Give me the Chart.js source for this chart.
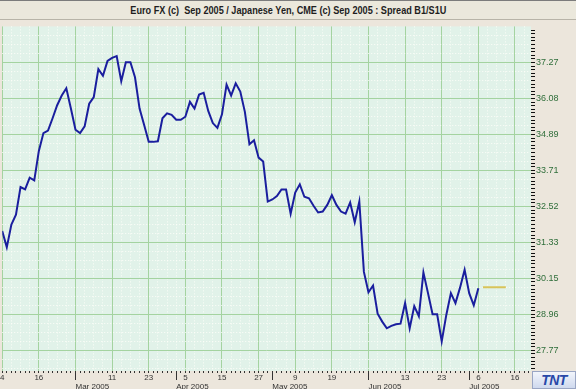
<!DOCTYPE html>
<html>
<head>
<meta charset="utf-8">
<script src="https://cdn.jsdelivr.net/npm/chart.js@4.4.0/dist/chart.umd.min.js"></script>
<style>
  html, body { margin: 0; padding: 0; background: #ece6dc; }
  #wrap { position: relative; width: 576px; height: 389px; overflow: hidden; }
  #title {
    position: absolute; left: 0; top: 0; width: 576px; height: 18px;
    background: #ebe8dc; border-top: 1px solid #7c7c7c; border-bottom: 1px solid #b8b4a8;
    font-family: "Liberation Sans", Arial, sans-serif;
    font-weight: bold; font-size: 11px; color: #1e1e1e;
    text-align: center; line-height: 18px; white-space: pre;
  }
  #title span { display: inline-block; transform: scaleX(0.83); }
  #box { position: absolute; left: 0; top: 20px; width: 576px; height: 369px; }
  #logo {
    position: absolute; left: 532px; top: 371px; width: 44px; height: 18px;
    background: linear-gradient(#f2f5fb, #cfd9ee); box-sizing: border-box; border: 1px solid #9aa6c4;
    font-family: "Liberation Sans", Arial, sans-serif; font-weight: bold; font-style: italic;
    font-size: 14px; line-height: 16px; color: #2848a8; text-align: center; letter-spacing: -0.5px;
  }
</style>
</head>
<body>
<div id="wrap">
  <div id="title"><span>Euro FX (c)  Sep 2005 / Japanese Yen, CME (c) Sep 2005 : Spread B1/S1U</span></div>
  <div id="box"><canvas id="spreadChart"></canvas></div>
  <div id="logo">TNT</div>
</div>
<script>
  // Spread close per trading day, index 0 = 4 Feb 2005 ... index 104 = 6 Jul 2005
  const spread = [
    31.71, 31.17, 31.92, 32.25, 33.16, 33.08, 33.47, 33.38, 34.35, 34.94,
    35.02, 35.43, 35.86, 36.18, 36.42, 35.75, 35.05, 34.94, 35.16, 35.91,
    36.13, 37.05, 36.83, 37.32, 37.42, 37.48, 36.65, 37.28, 37.28, 36.78,
    35.75, 35.21, 34.65, 34.65, 34.67, 35.43, 35.59, 35.54, 35.38, 35.38,
    35.48, 35.97, 35.75, 36.21, 36.27, 35.67, 35.27, 35.11, 35.56, 36.54,
    36.18, 36.58, 36.31, 35.64, 34.57, 34.70, 34.13, 34.00, 32.68, 32.75,
    32.86, 33.08, 33.08, 32.28, 32.98, 33.25, 32.84, 32.79, 32.54, 32.32,
    32.35, 32.57, 32.89, 32.57, 32.35, 32.28, 32.65, 32.00, 32.68, 30.36,
    29.69, 29.91, 28.98, 28.72, 28.50, 28.58, 28.63, 28.65, 29.33, 28.50,
    29.23, 28.90, 30.34, 29.66, 28.96, 28.96, 28.07, 28.94, 29.66, 29.33,
    29.84, 30.43, 29.66, 29.26, 29.82
  ];

  // last price marker (yellow dash right of the line)
  const markerIdx = [105, 110];
  const markerValue = 29.85;

  // x axis: trading-day index of grid lines and their day labels
  const gridDays = [0, 8, 16, 24, 32, 40, 48, 56, 64, 72, 80, 88, 96, 104, 112];
  const dayLabels = ['4', '16', '', '11', '23', '5', '15', '27', '9', '19', '', '13', '23', '6', '16'];
  const monthIdx = [16, 38, 59, 80, 102];
  const monthLabels = ['Mar 2005', 'Apr 2005', 'May 2005', 'Jun 2005', 'Jul 2005'];

  // y axis labels
  const yTickValues = [27.77, 28.96, 30.15, 31.33, 32.52, 33.71, 34.89, 36.08, 37.27];

  const X_MAX = 115.5, Y_MIN = 27.09, Y_MAX = 38.46;
  const majorGreen = '#a4d3a0';
  const dotWhite = 'rgba(255,255,250,0.9)';

  // tick values between (and just beyond) the labelled values, n parts per interval
  function subTicks(n) {
    const out = [];
    const first = yTickValues[0], last = yTickValues[yTickValues.length - 1];
    const step0 = (yTickValues[1] - first) / n;
    for (let v = first - step0; v > Y_MIN; v -= step0) out.push({ value: v, major: false });
    for (let k = 0; k < yTickValues.length - 1; k++) {
      const a = yTickValues[k], b = yTickValues[k + 1];
      out.push({ value: a, major: true });
      for (let j = 1; j < n; j++) out.push({ value: a + (b - a) * j / n, major: false });
    }
    out.push({ value: last, major: true });
    const stepN = (last - yTickValues[yTickValues.length - 2]) / n;
    for (let v = last + stepN; v < Y_MAX; v += stepN) out.push({ value: v, major: false });
    return out.sort((p, q) => p.value - q.value);
  }

  const plotBg = {
    id: 'plotBg',
    beforeDraw(chart) {
      const a = chart.chartArea, ctx = chart.ctx;
      ctx.save();
      ctx.fillStyle = '#e1f2e9';
      ctx.fillRect(a.left, a.top, a.right - a.left, a.bottom - a.top);
      ctx.restore();
    }
  };

  // month boundary marks below the plot
  const monthMarks = {
    id: 'monthMarks',
    afterDraw(chart) {
      const xs = chart.scales.x, a = chart.chartArea, ctx = chart.ctx;
      ctx.save();
      ctx.strokeStyle = '#333';
      ctx.lineWidth = 1;
      monthIdx.forEach(i => {
        const px = Math.round(xs.getPixelForValue(i)) + 0.5;
        ctx.beginPath();
        ctx.moveTo(px, a.bottom + 1);
        ctx.lineTo(px, a.bottom + 9);
        ctx.stroke();
      });
      ctx.restore();
    }
  };

  const ctx = document.getElementById('spreadChart').getContext('2d');
  new Chart(ctx, {
    type: 'line',
    data: {
      datasets: [{
        data: spread.map((v, i) => ({ x: i, y: v })),
        borderColor: '#1a1e9e',
        borderWidth: 2,
        pointRadius: 0,
        tension: 0,
        fill: false
      }, {
        data: markerIdx.map(i => ({ x: i, y: markerValue })),
        borderColor: '#d8c45a',
        borderWidth: 2,
        pointRadius: 0,
        fill: false
      }]
    },
    options: {
      responsive: true,
      maintainAspectRatio: false,
      animation: false,
      layout: { padding: 0 },
      plugins: {
        legend: { display: false },
        tooltip: { enabled: false }
      },
      scales: {
        x: {
          type: 'linear',
          min: 0,
          max: X_MAX,
          position: 'bottom',
          afterBuildTicks: s => {
            const t = [];
            for (let i = 0; i <= Math.floor(X_MAX); i++) t.push({ value: i });
            s.ticks = t;
          },
          afterFit: s => { s.height = 10; },
          ticks: {
            autoSkip: false,
            maxRotation: 0,
            padding: 0,
            color: '#333',
            font: { family: 'Liberation Sans, Arial, sans-serif', size: 8 },
            callback: v => {
              const k = gridDays.indexOf(v);
              return k >= 0 ? dayLabels[k] : '';
            }
          },
          grid: {
            color: c => {
              const v = c.tick && c.tick.value;
              if (gridDays.includes(v)) return majorGreen;
              if (v % 2 === 0) return dotWhite;
              return 'transparent';
            },
            tickColor: '#333',
            tickLength: 2
          },
          border: {
            display: false,
            dash: c => (gridDays.includes(c.tick && c.tick.value) ? [] : [1, 2])
          }
        },
        months: {
          type: 'linear',
          min: 0,
          max: X_MAX,
          position: 'bottom',
          afterBuildTicks: s => { s.ticks = monthIdx.map(v => ({ value: v })); },
          afterFit: s => { s.height = 8; },
          ticks: {
            autoSkip: false,
            maxRotation: 0,
            align: 'start',
            padding: 1,
            color: '#333',
            font: { family: 'Liberation Sans, Arial, sans-serif', size: 8 },
            callback: v => monthLabels[monthIdx.indexOf(v)]
          },
          grid: { drawOnChartArea: false, drawTicks: false },
          border: { display: false }
        },
        y: {
          type: 'linear',
          min: Y_MIN,
          max: Y_MAX,
          position: 'right',
          afterBuildTicks: s => { s.ticks = subTicks(10); },
          afterFit: s => { s.width = 45; },
          ticks: {
            autoSkip: false,
            padding: 1,
            color: '#2f6e3a',
            font: { family: 'Liberation Sans, Arial, sans-serif', size: 9 },
            callback: (v, i, ticks) => (ticks[i].major ? v.toFixed(2) : '')
          },
          grid: {
            color: c => (c.tick && c.tick.major ? majorGreen : 'transparent'),
            tickColor: '#111',
            tickLength: 4
          },
          border: { display: false }
        },
        yMinor: {
          type: 'linear',
          min: Y_MIN,
          max: Y_MAX,
          position: 'right',
          afterBuildTicks: s => { s.ticks = subTicks(4).filter(t => !t.major); },
          afterFit: s => { s.width = 0; },
          ticks: { display: false },
          grid: { color: dotWhite, drawTicks: false },
          border: { display: false, dash: [1, 2] }
        }
      }
    },
    plugins: [plotBg, monthMarks]
  });
</script>
</body>
</html>
